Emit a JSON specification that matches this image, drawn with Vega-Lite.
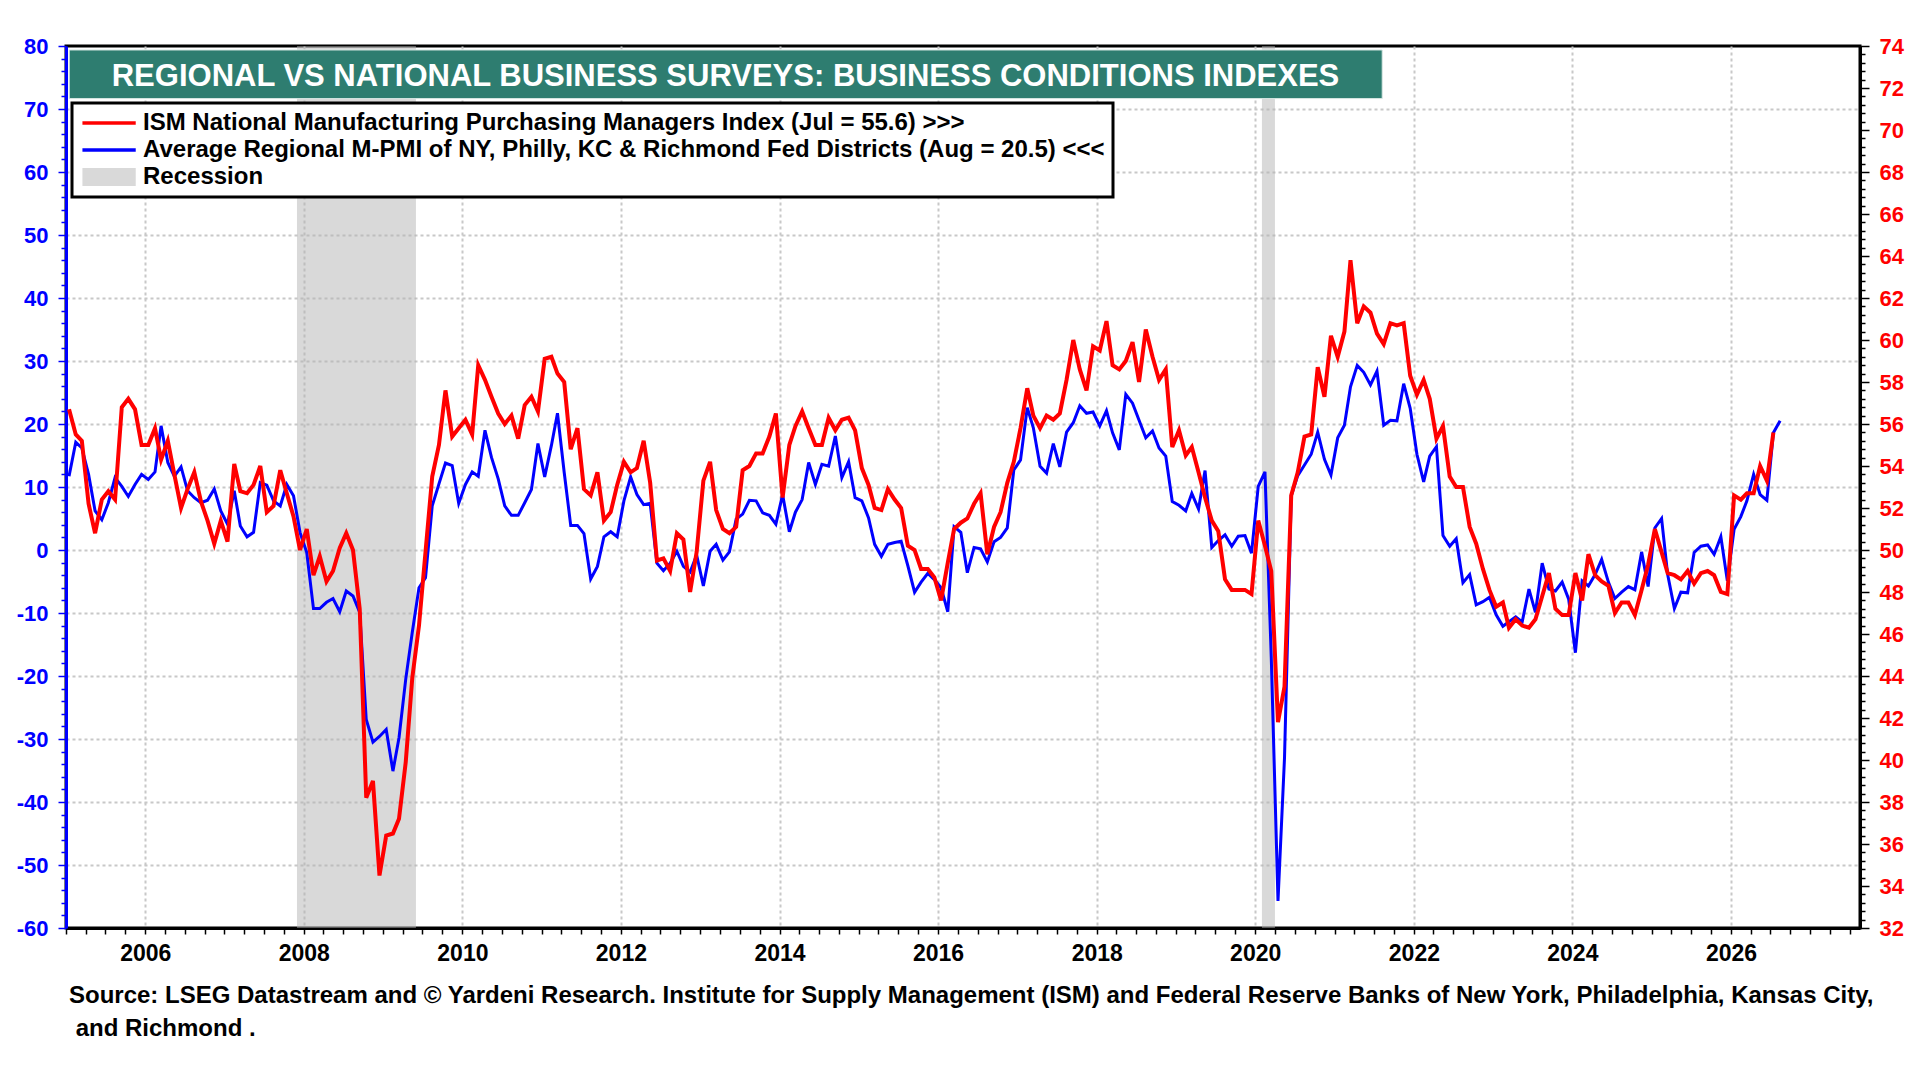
{
  "$schema": "https://vega.github.io/schema/vega-lite/v6.json",
  "width": 1794,
  "height": 882,
  "autosize": {"type": "none"},
  "padding": {"left": 66, "top": 46, "right": 60, "bottom": 152},
  "background": "white",
  "config": {
    "font": "Liberation Sans",
    "view": {"stroke": "black", "strokeWidth": 3}
  },
  "title": {
    "text": [
      "Source: LSEG Datastream and © Yardeni Research. Institute for Supply Management (ISM) and Federal Reserve Banks of New York, Philadelphia, Kansas City,",
      "\u200b\u00a0and Richmond ."
    ],
    "orient": "bottom",
    "anchor": "start",
    "frame": "group",
    "font": "Liberation Sans",
    "fontSize": 24,
    "fontWeight": "bold",
    "color": "black",
    "lineHeight": 33,
    "offset": 19,
    "dx": 3
  },
  "datasets": {
    "pmi": [
      {"d": "2005-01-15", "ism": 56.7, "reg": 11.7},
      {"d": "2005-02-15", "ism": 55.5, "reg": 17.1},
      {"d": "2005-03-15", "ism": 55.2, "reg": 16.2},
      {"d": "2005-04-15", "ism": 52.2, "reg": 12.0},
      {"d": "2005-05-15", "ism": 50.8, "reg": 6.2},
      {"d": "2005-06-15", "ism": 52.4, "reg": 4.8},
      {"d": "2005-07-15", "ism": 52.8, "reg": 7.5},
      {"d": "2005-08-15", "ism": 52.4, "reg": 11.5},
      {"d": "2005-09-15", "ism": 56.8, "reg": 10.1},
      {"d": "2005-10-15", "ism": 57.2, "reg": 8.5},
      {"d": "2005-11-15", "ism": 56.7, "reg": 10.4},
      {"d": "2005-12-15", "ism": 55.0, "reg": 12.0},
      {"d": "2006-01-15", "ism": 55.0, "reg": 11.2},
      {"d": "2006-02-15", "ism": 55.8, "reg": 12.4},
      {"d": "2006-03-15", "ism": 54.3, "reg": 19.7},
      {"d": "2006-04-15", "ism": 55.2, "reg": 13.9},
      {"d": "2006-05-15", "ism": 53.6, "reg": 11.7},
      {"d": "2006-06-15", "ism": 52.0, "reg": 13.2},
      {"d": "2006-07-15", "ism": 52.9, "reg": 9.4},
      {"d": "2006-08-15", "ism": 53.7, "reg": 8.3},
      {"d": "2006-09-15", "ism": 52.3, "reg": 7.5},
      {"d": "2006-10-15", "ism": 51.4, "reg": 7.9},
      {"d": "2006-11-15", "ism": 50.3, "reg": 9.7},
      {"d": "2006-12-15", "ism": 51.4, "reg": 6.2},
      {"d": "2007-01-15", "ism": 50.4, "reg": 4.1},
      {"d": "2007-02-15", "ism": 54.1, "reg": 9.4},
      {"d": "2007-03-15", "ism": 52.8, "reg": 3.8},
      {"d": "2007-04-15", "ism": 52.7, "reg": 2.1},
      {"d": "2007-05-15", "ism": 53.1, "reg": 2.8},
      {"d": "2007-06-15", "ism": 54.0, "reg": 10.7},
      {"d": "2007-07-15", "ism": 51.8, "reg": 10.3},
      {"d": "2007-08-15", "ism": 52.1, "reg": 7.8},
      {"d": "2007-09-15", "ism": 53.8, "reg": 7.0},
      {"d": "2007-10-15", "ism": 52.7, "reg": 10.4},
      {"d": "2007-11-15", "ism": 51.6, "reg": 8.6},
      {"d": "2007-12-15", "ism": 50.0, "reg": 2.8},
      {"d": "2008-01-15", "ism": 51.0, "reg": -0.4},
      {"d": "2008-02-15", "ism": 48.8, "reg": -9.3},
      {"d": "2008-03-15", "ism": 49.7, "reg": -9.3},
      {"d": "2008-04-15", "ism": 48.5, "reg": -8.3},
      {"d": "2008-05-15", "ism": 49.0, "reg": -7.7},
      {"d": "2008-06-15", "ism": 50.1, "reg": -9.8},
      {"d": "2008-07-15", "ism": 50.8, "reg": -6.5},
      {"d": "2008-08-15", "ism": 50.0, "reg": -7.3},
      {"d": "2008-09-15", "ism": 47.2, "reg": -9.9},
      {"d": "2008-10-15", "ism": 38.2, "reg": -26.9},
      {"d": "2008-11-15", "ism": 39.0, "reg": -30.5},
      {"d": "2008-12-15", "ism": 34.5, "reg": -29.6},
      {"d": "2009-01-15", "ism": 36.4, "reg": -28.5},
      {"d": "2009-02-15", "ism": 36.5, "reg": -35.1},
      {"d": "2009-03-15", "ism": 37.2, "reg": -29.8},
      {"d": "2009-04-15", "ism": 39.9, "reg": -20.5},
      {"d": "2009-05-15", "ism": 43.9, "reg": -13.1},
      {"d": "2009-06-15", "ism": 46.4, "reg": -6.0},
      {"d": "2009-07-15", "ism": 49.9, "reg": -4.4},
      {"d": "2009-08-15", "ism": 53.5, "reg": 7.0},
      {"d": "2009-09-15", "ism": 55.0, "reg": 10.5},
      {"d": "2009-10-15", "ism": 57.6, "reg": 13.8},
      {"d": "2009-11-15", "ism": 55.4, "reg": 13.4},
      {"d": "2009-12-15", "ism": 55.8, "reg": 7.4},
      {"d": "2010-01-15", "ism": 56.2, "reg": 10.4},
      {"d": "2010-02-15", "ism": 55.5, "reg": 12.4},
      {"d": "2010-03-15", "ism": 58.8, "reg": 11.7},
      {"d": "2010-04-15", "ism": 58.1, "reg": 19.0},
      {"d": "2010-05-15", "ism": 57.3, "reg": 14.7},
      {"d": "2010-06-15", "ism": 56.5, "reg": 11.3},
      {"d": "2010-07-15", "ism": 56.0, "reg": 7.0},
      {"d": "2010-08-15", "ism": 56.4, "reg": 5.5},
      {"d": "2010-09-15", "ism": 55.3, "reg": 5.5},
      {"d": "2010-10-15", "ism": 56.9, "reg": 7.5},
      {"d": "2010-11-15", "ism": 57.3, "reg": 9.6},
      {"d": "2010-12-15", "ism": 56.6, "reg": 16.9},
      {"d": "2011-01-15", "ism": 59.1, "reg": 11.6},
      {"d": "2011-02-15", "ism": 59.2, "reg": 16.6},
      {"d": "2011-03-15", "ism": 58.4, "reg": 21.7},
      {"d": "2011-04-15", "ism": 58.0, "reg": 12.3},
      {"d": "2011-05-15", "ism": 54.8, "reg": 3.9},
      {"d": "2011-06-15", "ism": 55.8, "reg": 3.9},
      {"d": "2011-07-15", "ism": 52.9, "reg": 2.6},
      {"d": "2011-08-15", "ism": 52.6, "reg": -4.6},
      {"d": "2011-09-15", "ism": 53.7, "reg": -2.6},
      {"d": "2011-10-15", "ism": 51.4, "reg": 2.1},
      {"d": "2011-11-15", "ism": 51.8, "reg": 2.9},
      {"d": "2011-12-15", "ism": 53.1, "reg": 2.1},
      {"d": "2012-01-15", "ism": 54.2, "reg": 7.8},
      {"d": "2012-02-15", "ism": 53.7, "reg": 11.6},
      {"d": "2012-03-15", "ism": 53.9, "reg": 8.8},
      {"d": "2012-04-15", "ism": 55.2, "reg": 7.2},
      {"d": "2012-05-15", "ism": 53.2, "reg": 7.4},
      {"d": "2012-06-15", "ism": 49.5, "reg": -2.1},
      {"d": "2012-07-15", "ism": 49.6, "reg": -3.3},
      {"d": "2012-08-15", "ism": 49.0, "reg": -2.1},
      {"d": "2012-09-15", "ism": 50.8, "reg": -0.2},
      {"d": "2012-10-15", "ism": 50.5, "reg": -2.6},
      {"d": "2012-11-15", "ism": 48.0, "reg": -3.5},
      {"d": "2012-12-15", "ism": 49.9, "reg": -0.8},
      {"d": "2013-01-15", "ism": 53.3, "reg": -5.7},
      {"d": "2013-02-15", "ism": 54.2, "reg": -0.2},
      {"d": "2013-03-15", "ism": 51.9, "reg": 0.9},
      {"d": "2013-04-15", "ism": 51.0, "reg": -1.6},
      {"d": "2013-05-15", "ism": 50.8, "reg": -0.3},
      {"d": "2013-06-15", "ism": 51.1, "reg": 4.9},
      {"d": "2013-07-15", "ism": 53.8, "reg": 5.7},
      {"d": "2013-08-15", "ism": 54.0, "reg": 7.9},
      {"d": "2013-09-15", "ism": 54.6, "reg": 7.8},
      {"d": "2013-10-15", "ism": 54.6, "reg": 5.9},
      {"d": "2013-11-15", "ism": 55.4, "reg": 5.5},
      {"d": "2013-12-15", "ism": 56.5, "reg": 4.1},
      {"d": "2014-01-15", "ism": 52.5, "reg": 8.8},
      {"d": "2014-02-15", "ism": 55.0, "reg": 2.9},
      {"d": "2014-03-15", "ism": 55.9, "reg": 6.0},
      {"d": "2014-04-15", "ism": 56.6, "reg": 8.0},
      {"d": "2014-05-15", "ism": 55.8, "reg": 13.9},
      {"d": "2014-06-15", "ism": 55.0, "reg": 10.4},
      {"d": "2014-07-15", "ism": 55.0, "reg": 13.6},
      {"d": "2014-08-15", "ism": 56.3, "reg": 13.3},
      {"d": "2014-09-15", "ism": 55.7, "reg": 18.1},
      {"d": "2014-10-15", "ism": 56.2, "reg": 11.5},
      {"d": "2014-11-15", "ism": 56.3, "reg": 14.0},
      {"d": "2014-12-15", "ism": 55.7, "reg": 8.3},
      {"d": "2015-01-15", "ism": 53.9, "reg": 7.8},
      {"d": "2015-02-15", "ism": 53.1, "reg": 5.1},
      {"d": "2015-03-15", "ism": 52.0, "reg": 0.9},
      {"d": "2015-04-15", "ism": 51.9, "reg": -1.0},
      {"d": "2015-05-15", "ism": 52.9, "reg": 0.9},
      {"d": "2015-06-15", "ism": 52.4, "reg": 1.2},
      {"d": "2015-07-15", "ism": 52.0, "reg": 1.4},
      {"d": "2015-08-15", "ism": 50.2, "reg": -2.5},
      {"d": "2015-09-15", "ism": 50.0, "reg": -6.7},
      {"d": "2015-10-15", "ism": 49.1, "reg": -5.1},
      {"d": "2015-11-15", "ism": 49.1, "reg": -3.7},
      {"d": "2015-12-15", "ism": 48.7, "reg": -4.7},
      {"d": "2016-01-15", "ism": 47.6, "reg": -6.0},
      {"d": "2016-02-15", "ism": 49.4, "reg": -9.8},
      {"d": "2016-03-15", "ism": 51.0, "reg": 3.7},
      {"d": "2016-04-15", "ism": 51.3, "reg": 2.8},
      {"d": "2016-05-15", "ism": 51.5, "reg": -3.6},
      {"d": "2016-06-15", "ism": 52.2, "reg": 0.4},
      {"d": "2016-07-15", "ism": 52.7, "reg": 0.2},
      {"d": "2016-08-15", "ism": 49.8, "reg": -1.9},
      {"d": "2016-09-15", "ism": 51.1, "reg": 1.3},
      {"d": "2016-10-15", "ism": 51.8, "reg": 2.0},
      {"d": "2016-11-15", "ism": 53.2, "reg": 3.5},
      {"d": "2016-12-15", "ism": 54.2, "reg": 12.7},
      {"d": "2017-01-15", "ism": 55.8, "reg": 14.3},
      {"d": "2017-02-15", "ism": 57.7, "reg": 22.6},
      {"d": "2017-03-15", "ism": 56.4, "reg": 19.4},
      {"d": "2017-04-15", "ism": 55.8, "reg": 13.3},
      {"d": "2017-05-15", "ism": 56.4, "reg": 12.2},
      {"d": "2017-06-15", "ism": 56.2, "reg": 16.9},
      {"d": "2017-07-15", "ism": 56.5, "reg": 13.2},
      {"d": "2017-08-15", "ism": 58.1, "reg": 18.7},
      {"d": "2017-09-15", "ism": 60.0, "reg": 20.2},
      {"d": "2017-10-15", "ism": 58.6, "reg": 22.9},
      {"d": "2017-11-15", "ism": 57.6, "reg": 21.7},
      {"d": "2017-12-15", "ism": 59.7, "reg": 21.9},
      {"d": "2018-01-15", "ism": 59.5, "reg": 19.7},
      {"d": "2018-02-15", "ism": 60.9, "reg": 22.1},
      {"d": "2018-03-15", "ism": 58.8, "reg": 18.6},
      {"d": "2018-04-15", "ism": 58.6, "reg": 15.9},
      {"d": "2018-05-15", "ism": 59.0, "reg": 24.7},
      {"d": "2018-06-15", "ism": 59.9, "reg": 23.3},
      {"d": "2018-07-15", "ism": 58.0, "reg": 20.6},
      {"d": "2018-08-15", "ism": 60.5, "reg": 17.8},
      {"d": "2018-09-15", "ism": 59.2, "reg": 18.9},
      {"d": "2018-10-15", "ism": 58.1, "reg": 16.2},
      {"d": "2018-11-15", "ism": 58.6, "reg": 14.9},
      {"d": "2018-12-15", "ism": 54.9, "reg": 7.7},
      {"d": "2019-01-15", "ism": 55.7, "reg": 7.1},
      {"d": "2019-02-15", "ism": 54.5, "reg": 6.2},
      {"d": "2019-03-15", "ism": 54.9, "reg": 9.0},
      {"d": "2019-04-15", "ism": 53.7, "reg": 6.5},
      {"d": "2019-05-15", "ism": 52.5, "reg": 12.6},
      {"d": "2019-06-15", "ism": 51.4, "reg": 0.4},
      {"d": "2019-07-15", "ism": 50.9, "reg": 1.5},
      {"d": "2019-08-15", "ism": 48.6, "reg": 2.4},
      {"d": "2019-09-15", "ism": 48.1, "reg": 0.6},
      {"d": "2019-10-15", "ism": 48.1, "reg": 2.2},
      {"d": "2019-11-15", "ism": 48.1, "reg": 2.3},
      {"d": "2019-12-15", "ism": 47.9, "reg": -0.5},
      {"d": "2020-01-15", "ism": 51.4, "reg": 10.1},
      {"d": "2020-02-15", "ism": 50.2, "reg": 12.4},
      {"d": "2020-03-15", "ism": 49.0, "reg": -17.0},
      {"d": "2020-04-15", "ism": 41.8, "reg": -55.7},
      {"d": "2020-05-15", "ism": 43.5, "reg": -33.0},
      {"d": "2020-06-15", "ism": 52.6, "reg": 8.6},
      {"d": "2020-07-15", "ism": 53.7, "reg": 11.8},
      {"d": "2020-08-15", "ism": 55.4, "reg": 13.5},
      {"d": "2020-09-15", "ism": 55.5, "reg": 15.2},
      {"d": "2020-10-15", "ism": 58.7, "reg": 18.7},
      {"d": "2020-11-15", "ism": 57.3, "reg": 14.4},
      {"d": "2020-12-15", "ism": 60.2, "reg": 11.9},
      {"d": "2021-01-15", "ism": 59.2, "reg": 17.8},
      {"d": "2021-02-15", "ism": 60.4, "reg": 19.8},
      {"d": "2021-03-15", "ism": 63.8, "reg": 25.9},
      {"d": "2021-04-15", "ism": 60.8, "reg": 29.3},
      {"d": "2021-05-15", "ism": 61.6, "reg": 28.2},
      {"d": "2021-06-15", "ism": 61.3, "reg": 26.2},
      {"d": "2021-07-15", "ism": 60.3, "reg": 28.4},
      {"d": "2021-08-15", "ism": 59.8, "reg": 19.8},
      {"d": "2021-09-15", "ism": 60.8, "reg": 20.6},
      {"d": "2021-10-15", "ism": 60.7, "reg": 20.5},
      {"d": "2021-11-15", "ism": 60.8, "reg": 26.4},
      {"d": "2021-12-15", "ism": 58.3, "reg": 22.5},
      {"d": "2022-01-15", "ism": 57.4, "reg": 15.2},
      {"d": "2022-02-15", "ism": 58.1, "reg": 10.8},
      {"d": "2022-03-15", "ism": 57.2, "reg": 14.9},
      {"d": "2022-04-15", "ism": 55.3, "reg": 16.4},
      {"d": "2022-05-15", "ism": 55.9, "reg": 2.3},
      {"d": "2022-06-15", "ism": 53.5, "reg": 0.6},
      {"d": "2022-07-15", "ism": 53.0, "reg": 1.8},
      {"d": "2022-08-15", "ism": 53.0, "reg": -5.2},
      {"d": "2022-09-15", "ism": 51.1, "reg": -3.9},
      {"d": "2022-10-15", "ism": 50.3, "reg": -8.7},
      {"d": "2022-11-15", "ism": 49.1, "reg": -8.2},
      {"d": "2022-12-15", "ism": 48.1, "reg": -7.5},
      {"d": "2023-01-15", "ism": 47.3, "reg": -10.3},
      {"d": "2023-02-15", "ism": 47.5, "reg": -12.1},
      {"d": "2023-03-15", "ism": 46.3, "reg": -11.4},
      {"d": "2023-04-15", "ism": 46.7, "reg": -10.6},
      {"d": "2023-05-15", "ism": 46.4, "reg": -11.4},
      {"d": "2023-06-15", "ism": 46.3, "reg": -6.2},
      {"d": "2023-07-15", "ism": 46.7, "reg": -9.9},
      {"d": "2023-08-15", "ism": 47.8, "reg": -2.1},
      {"d": "2023-09-15", "ism": 48.9, "reg": -6.2},
      {"d": "2023-10-15", "ism": 47.2, "reg": -6.5},
      {"d": "2023-11-15", "ism": 46.9, "reg": -5.1},
      {"d": "2023-12-15", "ism": 46.9, "reg": -7.8},
      {"d": "2024-01-15", "ism": 48.9, "reg": -16.3},
      {"d": "2024-02-15", "ism": 47.6, "reg": -4.9},
      {"d": "2024-03-15", "ism": 49.8, "reg": -5.7},
      {"d": "2024-04-15", "ism": 48.8, "reg": -3.9},
      {"d": "2024-05-15", "ism": 48.5, "reg": -1.5},
      {"d": "2024-06-15", "ism": 48.3, "reg": -5.1},
      {"d": "2024-07-15", "ism": 47.0, "reg": -7.7},
      {"d": "2024-08-15", "ism": 47.5, "reg": -6.7},
      {"d": "2024-09-15", "ism": 47.5, "reg": -5.8},
      {"d": "2024-10-15", "ism": 46.9, "reg": -6.3},
      {"d": "2024-11-15", "ism": 48.1, "reg": -0.3},
      {"d": "2024-12-15", "ism": 49.3, "reg": -5.8},
      {"d": "2025-01-15", "ism": 51.0, "reg": 3.5},
      {"d": "2025-02-15", "ism": 49.9, "reg": 5.0},
      {"d": "2025-03-15", "ism": 48.9, "reg": -3.9},
      {"d": "2025-04-15", "ism": 48.8, "reg": -9.3},
      {"d": "2025-05-15", "ism": 48.6, "reg": -6.7},
      {"d": "2025-06-15", "ism": 49.0, "reg": -6.8},
      {"d": "2025-07-15", "ism": 48.4, "reg": -0.4},
      {"d": "2025-08-15", "ism": 48.9, "reg": 0.6},
      {"d": "2025-09-15", "ism": 49.0, "reg": 0.8},
      {"d": "2025-10-15", "ism": 48.8, "reg": -0.7},
      {"d": "2025-11-15", "ism": 48.0, "reg": 2.1},
      {"d": "2025-12-15", "ism": 47.9, "reg": -4.9},
      {"d": "2026-01-15", "ism": 52.6, "reg": 3.3},
      {"d": "2026-02-15", "ism": 52.4, "reg": 5.3},
      {"d": "2026-03-15", "ism": 52.7, "reg": 7.8},
      {"d": "2026-04-15", "ism": 52.7, "reg": 12.0},
      {"d": "2026-05-15", "ism": 54.0, "reg": 8.8},
      {"d": "2026-06-15", "ism": 53.3, "reg": 7.9},
      {"d": "2026-07-15", "ism": 55.6, "reg": 18.6},
      {"d": "2026-08-15", "ism": null, "reg": 20.5}
    ],
    "recessions": [
      {"start": "2007-12-01", "end": "2009-06-01"},
      {"start": "2020-02-01", "end": "2020-04-01"}
    ],
    "banner": [
      {"title": "REGIONAL VS NATIONAL BUSINESS SURVEYS: BUSINESS CONDITIONS INDEXES"}
    ]
  },
  "layer": [
    {
      "layer": [
        {
          "data": {"name": "recessions"},
          "mark": {"type": "rect", "color": "#b3b3b3", "opacity": 0.5},
          "encoding": {
            "x": {"field": "start", "type": "temporal"},
            "x2": {"field": "end"}
          }
        },
        {
          "mark": {"type": "rule", "color": "#6e6e6e", "strokeWidth": 2},
          "encoding": {"y": {"datum": 0}}
        },
        {
          "data": {"name": "banner"},
          "mark": {"type": "rect", "color": "#2e7d70", "stroke": "#d9e8e4", "strokeWidth": 1},
          "encoding": {
            "x": {"datum": 1105833600000, "type": "temporal"},
            "x2": {"datum": 1628380800000},
            "y": {"datum": 79.37, "type": "quantitative"},
            "y2": {"datum": 71.65}
          }
        },
        {
          "data": {"name": "banner"},
          "mark": {
            "type": "text",
            "color": "white",
            "font": "Liberation Sans",
            "fontSize": 31,
            "fontWeight": "bold",
            "align": "center",
            "baseline": "middle"
          },
          "encoding": {
            "text": {"field": "title", "type": "nominal"},
            "x": {"datum": 1367020800000, "type": "temporal"},
            "y": {"datum": 75.1, "type": "quantitative"}
          }
        },
        {
          "data": {"name": "pmi"},
          "mark": {"type": "line", "strokeWidth": 3},
          "encoding": {
            "x": {
              "field": "d",
              "type": "temporal",
              "scale": {
                "domain": [{"year": 2005, "month": 1, "date": 1}, {"year": 2027, "month": 8, "date": 18}],
                "nice": false
              },
              "axis": {
                "title": null,
                "tickCount": {"interval": "month", "step": 3},
                "labelExpr": "month(datum.value) === 0 && year(datum.value) % 2 === 0 ? '' + year(datum.value) : ''",
                "labelFont": "Liberation Sans",
                "labelFontSize": 23,
                "labelFontWeight": "bold",
                "labelColor": "black",
                "labelPadding": 8,
                "labelOverlap": false,
                "labelFlush": false,
                "labelBound": false,
                "domainColor": "black",
                "domainWidth": 3,
                "tickColor": "black",
                "tickWidth": 1.5,
                "tickSize": 6,
                "grid": true,
                "gridColor": "#c8c8c8",
                "gridDash": [3, 3],
                "gridWidth": 2,
                "gridOpacity": {
                  "condition": {"test": "month(datum.value) === 0 && year(datum.value) % 2 === 0", "value": 1},
                  "value": 0
                }
              }
            },
            "y": {
              "field": "reg",
              "type": "quantitative",
              "scale": {"domain": [-60, 80], "nice": false, "zero": false},
              "axis": {
                "orient": "left",
                "title": null,
                "tickCount": 70,
                "labelExpr": "datum.value % 10 === 0 ? '' + datum.value : ''",
                "labelFont": "Liberation Sans",
                "labelFontSize": 22,
                "labelFontWeight": "bold",
                "labelColor": "#0000ff",
                "labelPadding": 10,
                "labelOverlap": false,
                "labelFlush": false,
                "labelBound": false,
                "domainColor": "#0000ff",
                "domainWidth": 3,
                "tickColor": "#0000ff",
                "tickWidth": 1.5,
                "tickSize": {"condition": {"test": "datum.value % 10 === 0", "value": 8}, "value": 5},
                "grid": true,
                "gridColor": "#c8c8c8",
                "gridDash": [3, 3],
                "gridWidth": 2,
                "gridOpacity": {
                  "condition": {"test": "datum.value % 10 === 0 && datum.value > -60 && datum.value < 80", "value": 1},
                  "value": 0
                }
              }
            },
            "color": {
              "datum": "Average Regional M-PMI of NY, Philly, KC & Richmond Fed Districts (Aug = 20.5) <<<",
              "type": "nominal",
              "scale": {
                "domain": [
                  "ISM National Manufacturing Purchasing Managers Index (Jul = 55.6) >>>",
                  "Average Regional M-PMI of NY, Philly, KC & Richmond Fed Districts (Aug = 20.5) <<<",
                  "Recession"
                ],
                "range": ["#ff0000", "#0000ff", "#d9d9d9"]
              },
              "legend": {
                "title": null,
                "orient": "none",
                "legendX": 6,
                "legendY": 57,
                "fillColor": "white",
                "strokeColor": "black",
                "padding": 8,
                "labelFont": "Liberation Sans",
                "labelFontSize": 24,
                "labelFontWeight": "bold",
                "labelColor": "black",
                "labelLimit": 1500,
                "labelOffset": 39,
                "rowPadding": 3,
                "symbolSize": 174,
                "symbolStrokeWidth": 0,
                "encode": {
                  "legend": {"update": {"strokeWidth": {"value": 3}}},
                  "symbols": {
                    "update": {
                      "shape": {"signal": "datum.value === 'Recession' ? 'M-1.45,-1.36H6.63V1.36H-1.45Z' : 'M-1.45,-0.27H6.63V0.27H-1.45Z'"},
                      "fill": {"scale": "color", "field": "value"},
                      "stroke": {"value": "transparent"},
                      "strokeWidth": {"value": 0},
                      "opacity": {"value": 1}
                    }
                  }
                }
              }
            }
          }
        }
      ]
    },
    {
      "data": {"name": "pmi"},
      "mark": {"type": "line", "strokeWidth": 4},
      "encoding": {
        "x": {"field": "d", "type": "temporal"},
        "y": {
          "field": "ism",
          "type": "quantitative",
          "scale": {"domain": [32, 74], "nice": false, "zero": false},
          "axis": {
            "orient": "right",
            "title": null,
            "values": [32, 32.4, 32.8, 33.2, 33.6, 34, 34.4, 34.8, 35.2, 35.6, 36, 36.4, 36.8, 37.2, 37.6, 38, 38.4, 38.8, 39.2, 39.6, 40, 40.4, 40.8, 41.2, 41.6, 42, 42.4, 42.8, 43.2, 43.6, 44, 44.4, 44.8, 45.2, 45.6, 46, 46.4, 46.8, 47.2, 47.6, 48, 48.4, 48.8, 49.2, 49.6, 50, 50.4, 50.8, 51.2, 51.6, 52, 52.4, 52.8, 53.2, 53.6, 54, 54.4, 54.8, 55.2, 55.6, 56, 56.4, 56.8, 57.2, 57.6, 58, 58.4, 58.8, 59.2, 59.6, 60, 60.4, 60.8, 61.2, 61.6, 62, 62.4, 62.8, 63.2, 63.6, 64, 64.4, 64.8, 65.2, 65.6, 66, 66.4, 66.8, 67.2, 67.6, 68, 68.4, 68.8, 69.2, 69.6, 70, 70.4, 70.8, 71.2, 71.6, 72, 72.4, 72.8, 73.2, 73.6, 74],
            "labelExpr": "datum.value % 2 === 0 ? '' + datum.value : ''",
            "labelFont": "Liberation Sans",
            "labelFontSize": 22,
            "labelFontWeight": "bold",
            "labelColor": "#ff0000",
            "labelPadding": 10,
            "labelOverlap": false,
            "labelFlush": false,
            "labelBound": false,
            "domainColor": "black",
            "domainWidth": 3,
            "tickColor": "black",
            "tickWidth": 1.5,
            "tickSize": {"condition": {"test": "datum.value % 2 === 0", "value": 9}, "value": 5},
            "grid": false
          }
        },
        "color": {"datum": "ISM National Manufacturing Purchasing Managers Index (Jul = 55.6) >>>", "type": "nominal"}
      }
    }
  ],
  "resolve": {"scale": {"y": "independent"}}
}
